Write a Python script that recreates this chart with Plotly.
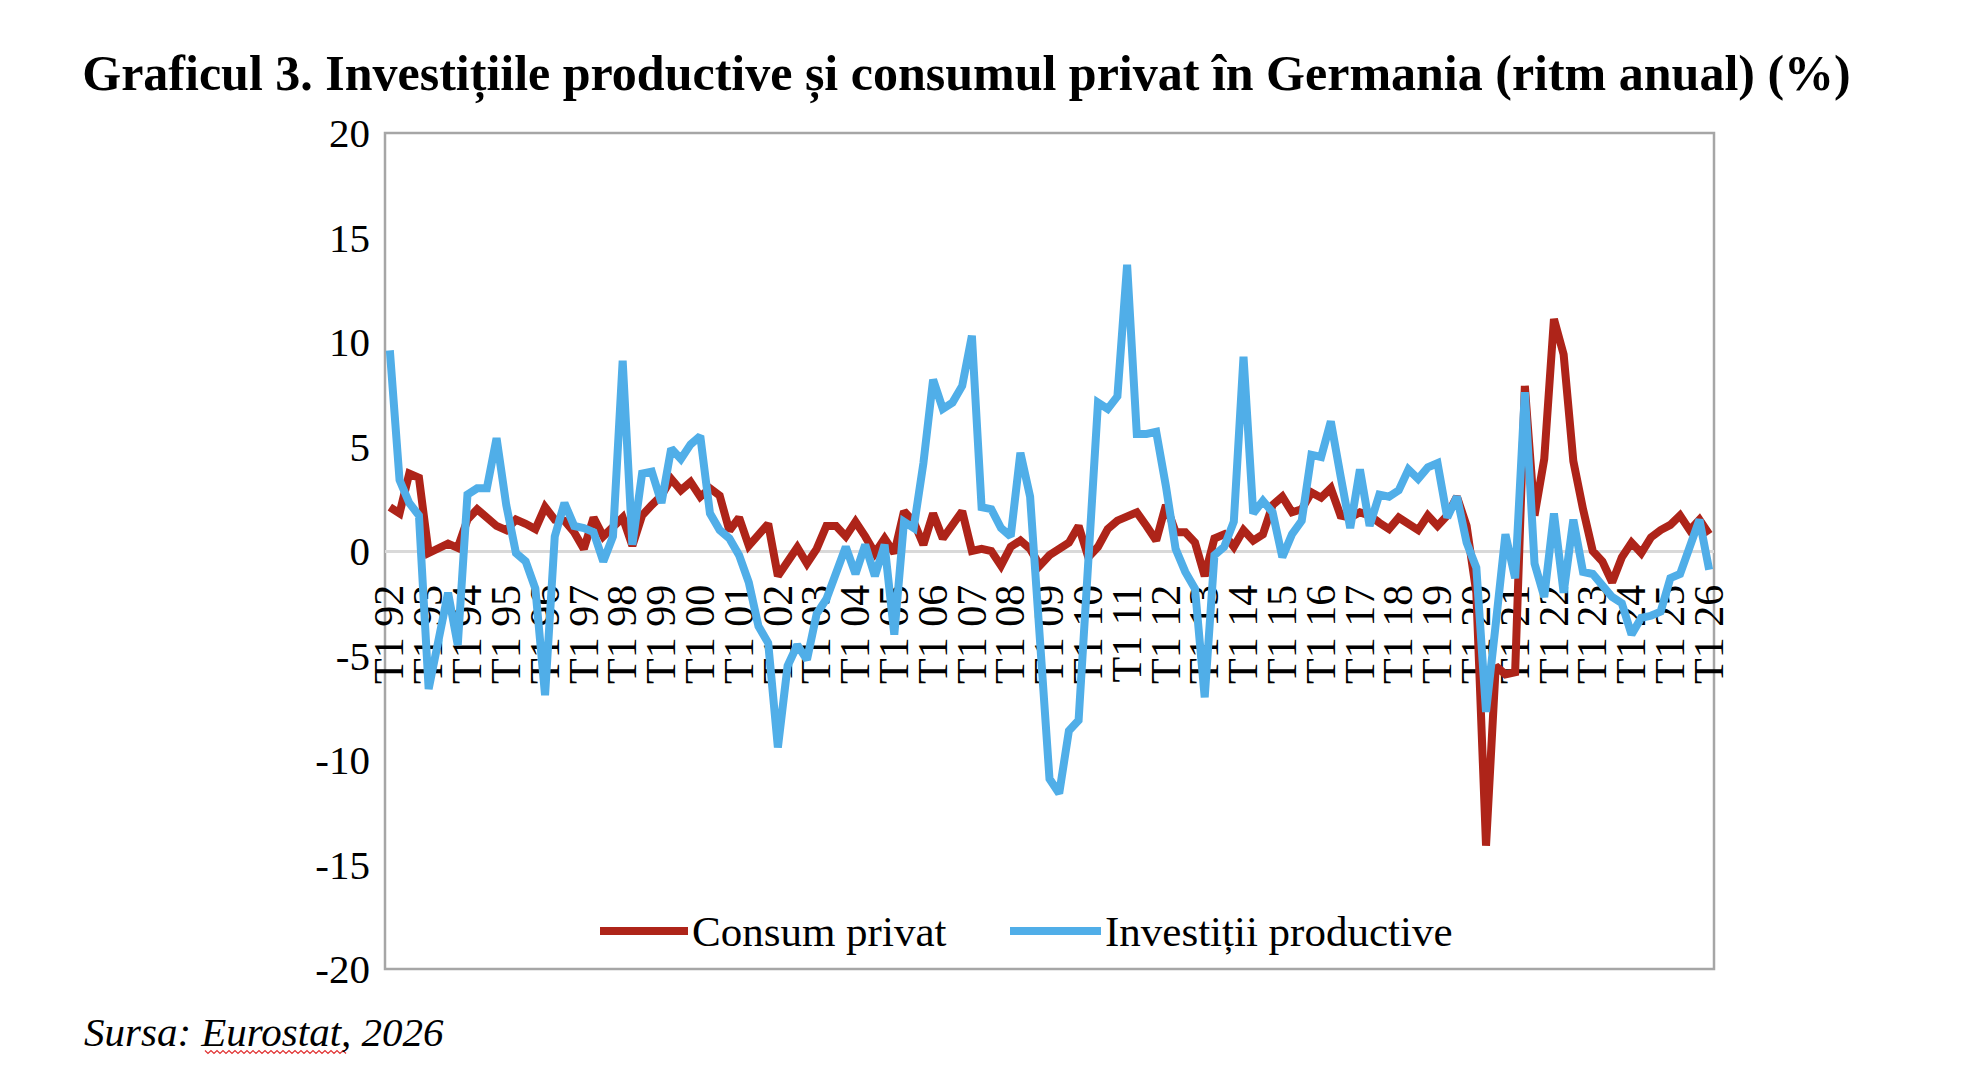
import plotly.graph_objects as go

# ---------------- data ----------------
tick_labels = ["T1 92", "T1 93", "T1 94", "T1 95", "T1 96", "T1 97", "T1 98", "T1 99",
               "T1 00", "T1 01", "T1 02", "T1 03", "T1 04", "T1 05", "T1 06", "T1 07",
               "T1 08", "T1 09", "T1 10", "T1 11", "T1 12", "T1 13", "T1 14", "T1 15",
               "T1 16", "T1 17", "T1 18", "T1 19", "T1 20", "T1 21", "T1 22", "T1 23",
               "T1 24", "T1 25", "T1 26"]
years = [t.split(" ")[1] for t in tick_labels]
categories = [f"T{q} {yy}" for yy in years for q in (1, 2, 3, 4)][:137]

consum_privat = [
    2.1, 1.8, 3.7, 3.5, -0.1, 0.1, 0.35, 0.15, 1.5, 2.0, 1.6, 1.2, 1.0, 1.5, 1.3, 1.05,
    2.1, 1.5, 1.45, 0.9, 0.1, 1.6, 0.7, 1.2, 1.6, 0.25, 1.7, 2.2, 2.65, 3.45, 2.9, 3.3,
    2.6, 3.0, 2.65, 0.97, 1.6, 0.25, 0.73, 1.3, -1.2, -0.45, 0.17, -0.6, 0.1, 1.2, 1.2, 0.7,
    1.4, 0.7, -0.1, 0.6, -0.1, 1.9, 1.4, 0.3, 1.8, 0.6, 1.3, 1.9, 0.0, 0.1, 0.0, -0.7,
    0.2, 0.5, 0.1, -0.7, -0.2, 0.1, 0.4, 1.2, -0.3, 0.2, 1.05, 1.45, 1.6, 1.85, 1.2, 0.5,
    2.2, 0.9, 0.9, 0.4, -1.2, 0.6, 0.8, 0.2, 1.0, 0.5, 0.8, 2.2, 2.6, 1.85, 2.0, 2.8,
    2.55, 3.0, 1.7, 1.6, 1.85, 1.7, 1.35, 1.05, 1.6, 1.3, 1.0, 1.7, 1.2, 1.7, 2.6, 1.2,
    -2.0, -14.1, -5.5, -5.9, -5.8, 7.9, 1.7, 4.4, 11.1, 9.4, 4.3, 2.0, 0.0, -0.5, -1.5, -0.3,
    0.4, -0.1, 0.65, 1.0, 1.25, 1.7, 1.0, 1.5, 0.8]

investitii_productive = [
    9.6, 3.4, 2.3, 1.7, -6.6, -4.3, -2.0, -4.5, 2.7, 3.0, 3.0, 5.4, 2.2, -0.1, -0.5, -1.8,
    -6.9, 0.7, 2.3, 1.2, 1.1, 0.9, -0.5, 0.7, 9.1, 0.3, 3.7, 3.8, 2.3, 4.9, 4.4, 5.1,
    5.5, 1.8, 1.0, 0.6, -0.2, -1.5, -3.6, -4.4, -9.4, -5.5, -4.5, -5.2, -3.0, -2.3, -1.0, 0.2,
    -1.1, 0.3, -1.2, 0.3, -4.0, 1.4, 1.1, 4.2, 8.2, 6.8, 7.1, 7.9, 10.3, 2.1, 2.0, 1.1,
    0.7, 4.7, 2.6, -4.5, -10.9, -11.6, -8.6, -8.1, -0.5, 7.1, 6.8, 7.4, 13.7, 5.6, 5.6, 5.7,
    3.1, 0.1, -1.0, -1.8, -7.0, -0.2, 0.2, 1.4, 9.3, 1.8, 2.4, 1.85, -0.3, 0.8, 1.45, 4.6,
    4.5, 6.2, 3.6, 1.1, 3.9, 1.2, 2.7, 2.6, 2.9, 3.9, 3.45, 4.0, 4.2, 1.6, 2.6, 0.4,
    -0.8, -7.7, -3.5, 0.8, -1.3, 7.6, -0.6, -2.2, 1.8, -2.0, 1.5, -1.0, -1.1, -1.6, -2.2, -2.5,
    -4.0, -3.2, -3.1, -2.9, -1.3, -1.1, 0.3, 1.5, -0.9]

y_ticks = [20, 15, 10, 5, 0, -5, -10, -15, -20]
y_tick_text = ["20", "15", "10", "5", "0", "-5", "-10", "-15", "-20"]

series_names = ["Consum privat", "Investiții productive"]
RED = "#AE2419"
BLUE = "#50AEE8"
FONT = "Liberation Serif"

# ---------------- figure ----------------
fig = go.Figure()
fig.add_trace(go.Scatter(x=categories, y=consum_privat, mode="lines",
                         line=dict(color=RED, width=8), name=series_names[0],
                         showlegend=False))
fig.add_trace(go.Scatter(x=categories, y=investitii_productive, mode="lines",
                         line=dict(color=BLUE, width=8), name=series_names[1],
                         showlegend=False))

L, R, T, B = 385, 254, 133, 119
W, H = 1968, 1088
pw, ph = W - L - R, H - T - B


def px(x):
    return (x - L) / pw


def py(y):
    return (H - B - y) / ph


shapes = [
    dict(type="rect", xref="paper", yref="paper", x0=0, x1=1, y0=0, y1=1,
         line=dict(color="#A6A6A6", width=2.5), layer="below"),
    # manual legend samples
    dict(type="line", xref="paper", yref="paper", x0=px(600), x1=px(688),
         y0=py(931), y1=py(931), line=dict(color=RED, width=8)),
    dict(type="line", xref="paper", yref="paper", x0=px(1010), x1=px(1101),
         y0=py(931), y1=py(931), line=dict(color=BLUE, width=8)),
]

# spell-check wavy underline under "Eurostat"
zig_x0, zig_x1, zig_y = 205, 346, 1052
pts = []
xx = zig_x0
k = 0
while xx <= zig_x1:
    pts.append((px(xx), py(zig_y + (1.5 if k % 2 else -1.5))))
    xx += 3
    k += 1
path = "M " + " L ".join(f"{a:.5f},{b:.5f}" for a, b in pts)
shapes.append(dict(type="path", xref="paper", yref="paper", path=path,
                   line=dict(color="#E03030", width=1.2)))

annotations = [
    dict(text=series_names[0], xref="paper", yref="paper", x=px(690), y=py(931),
         xanchor="left", yanchor="middle", showarrow=False,
         font=dict(family=FONT, size=43, color="black")),
    dict(text=series_names[1], xref="paper", yref="paper", x=px(1103), y=py(931),
         xanchor="left", yanchor="middle", showarrow=False,
         font=dict(family=FONT, size=43, color="black")),
    dict(text="<i>Sursa: Eurostat, 2026</i>", xref="paper", yref="paper",
         x=px(82), y=py(1032), xanchor="left", yanchor="middle", showarrow=False,
         font=dict(family=FONT, size=41, color="black")),
]

fig.update_layout(
    template="none",
    width=W, height=H,
    margin=dict(l=L, r=R, t=T, b=B, pad=0),
    paper_bgcolor="white", plot_bgcolor="white",
    title=dict(text="<b>Graficul 3. Investițiile productive și consumul privat în Germania (ritm anual) (%)</b>",
               x=966.5 / W, xanchor="center", y=1 - 72 / H, yanchor="middle",
               font=dict(family=FONT, size=50, color="black")),
    shapes=shapes,
    annotations=annotations,
    showlegend=False,
    xaxis=dict(type="category", categoryorder="array", categoryarray=categories,
               range=[-0.5, len(categories) - 0.5],
               tickmode="array", tickvals=tick_labels, ticktext=tick_labels,
               tickangle=-90, ticks="", ticklabelstandoff=15,
               tickfont=dict(family=FONT, size=42, color="black"),
               showline=True, linecolor="#D9D9D9", linewidth=3,
               anchor="free", position=0.5, showgrid=False, zeroline=False,
               layer="below traces", automargin=False, fixedrange=True),
    yaxis=dict(range=[-20, 20], tickmode="array", tickvals=y_ticks, ticktext=y_tick_text,
               ticks="", ticklabelstandoff=14,
               tickfont=dict(family=FONT, size=41, color="black"),
               showline=False, showgrid=False, zeroline=False, automargin=False),
)

fig.write_html("out.html")
